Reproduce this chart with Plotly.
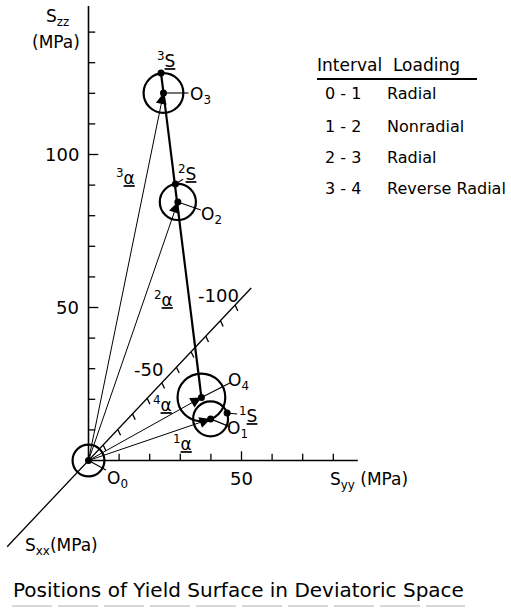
import plotly.graph_objects as go

# ---------------- data (MPa) ----------------
# Yield-surface centres O0..O4 in the (Syy, Szz) deviatoric plane and radii
centre_label = ["0", "1", "2", "3", "4"]
centre_syy = [0.0, 39.9, 29.2, 24.5, 36.9]
centre_szz = [0.0, 13.6, 84.5, 120.1, 20.6]
surface_radius = [5.2, 5.7, 5.9, 6.5, 7.8]

# Stress states 1S..3S
stress_label = ["1", "2", "3"]
stress_syy = [45.3, 28.4, 23.7]
stress_szz = [15.5, 90.4, 126.6]

# Axis ticks
syy_ticks = [10, 20, 30, 40, 50, 60, 70, 80]
syy_tick_text = [50]
szz_ticks = [10, 20, 30, 40, 50, 60, 70, 80, 90, 100, 110, 120, 130, 140]
szz_tick_text = [50, 100]
sxx_ticks = [-10, -20, -30, -40, -50, -60, -70, -80, -90, -100]
sxx_tick_text = [-50, -100]
syy_axis_end = 88.0
szz_axis_end = 148.5
sxx_axis_span = [55.5, -111.0]
# page displacement of the oblique Sxx axis per +1 MPa of Sxx
sxx_dir = (-0.479, -0.508)

# Loading table
intervals = ["0 - 1", "1 - 2", "2 - 3", "3 - 4"]
loading = ["Radial", "Nonradial", "Radial", "Reverse Radial"]

# ---------------- page geometry ----------------
W, H = 511, 608
S = 3.06                  # pixels per MPa (both directions)
OX, OY = 88.5, 460.5      # pixel position of the origin
FONT = "DejaVu Sans"
INK = "black"

x_range = [-OX / S, (W - OX) / S]
y_range = [-(H - OY) / S, OY / S]


def px(x, y):
    """page pixel -> data coordinates"""
    return (x - OX) / S, (OY - y) / S


fig = go.Figure()


def lines(xs, ys, width):
    fig.add_trace(go.Scatter(x=xs, y=ys, mode="lines",
                             line=dict(color=INK, width=width),
                             hoverinfo="skip", showlegend=False))


def label(x, y, text, size=16, dx=0, dy=0, xanchor="center", yanchor="middle"):
    fig.add_annotation(x=x, y=y, text=text, showarrow=False, xshift=dx, yshift=dy,
                       xanchor=xanchor, yanchor=yanchor,
                       font=dict(family=FONT, size=size, color=INK))


# ---- axes ----
lines([0, syy_axis_end], [0, 0], 1.6)
lines([0, 0], [0, szz_axis_end], 1.6)
lines([sxx_dir[0] * a for a in sxx_axis_span], [sxx_dir[1] * a for a in sxx_axis_span], 1.3)

tx, ty = [], []
for t in syy_ticks:
    L = 3.0 if t in syy_tick_text else 2.2
    tx += [t, t, None]
    ty += [0, L, None]
for t in szz_ticks:
    L = 3.2 if t in szz_tick_text else 2.2
    tx += [0, L, None]
    ty += [t, t, None]
for t in sxx_ticks:
    bx, by = sxx_dir[0] * t, sxx_dir[1] * t
    tx += [bx, bx + 0.9, None]
    ty += [by, by - 1.9, None]
lines(tx, ty, 1.3)

for t in syy_tick_text:
    label(t, 0, str(t), size=18, dy=-5, yanchor="top")
for t in szz_tick_text:
    label(0, t, str(t), size=18, dx=-8, xanchor="right")
sxx_label_shift = {-50: (-13, 13), -100: (-17, 10)}
for t in sxx_tick_text:
    dx, dy = sxx_label_shift[t]
    label(sxx_dir[0] * t, sxx_dir[1] * t, str(t), size=18, dx=dx, dy=dy)

# axis titles
label(*px(57, 17), "S<sub>zz</sub>", size=17)
label(*px(56, 42), "(MPa)", size=17)
label(*px(328, 480), "S<sub>yy</sub> (MPa)", size=17, xanchor="left")
label(*px(23, 546), "S<sub>xx</sub>(MPa)", size=17, xanchor="left")

# ---- yield surfaces ----
for cx, cy, r in zip(centre_syy, centre_szz, surface_radius):
    fig.add_shape(type="circle", xref="x", yref="y",
                  x0=cx - r, x1=cx + r, y0=cy - r, y1=cy + r,
                  line=dict(color=INK, width=2.2))

# ---- back-stress vectors alpha (origin -> centre) ----
for cx, cy in zip(centre_syy[1:], centre_szz[1:]):
    fig.add_annotation(x=cx, y=cy, ax=0, ay=0, xref="x", yref="y", axref="x", ayref="y",
                       text="", showarrow=True, arrowhead=2, arrowsize=2.2,
                       arrowwidth=1.0, arrowcolor=INK, standoff=0)

# ---- loading path 3S -> O4 ----
lines([stress_syy[2], centre_syy[4]], [stress_szz[2], centre_szz[4]], 2.2)

# ---- leader lines (pixel offsets from the point) ----
centre_leader = [(17.5, -9.5), (19.5, -8), (23, -8), (25, 0), (28.5, 14.5)]
stress_leader = [(10, -1), (7.7, 4.7), None]
lx, ly = [], []
for cx, cy, off in zip(centre_syy, centre_szz, centre_leader):
    lx += [cx, cx + off[0] / S, None]
    ly += [cy, cy + off[1] / S, None]
for sx, sy, off in zip(stress_syy, stress_szz, stress_leader):
    if off:
        lx += [sx, sx + off[0] / S, None]
        ly += [sy, sy + off[1] / S, None]
lines(lx, ly, 1.1)

# ---- points ----
fig.add_trace(go.Scatter(x=centre_syy + stress_syy, y=centre_szz + stress_szz, mode="markers",
                         marker=dict(color=INK, size=7), hoverinfo="skip", showlegend=False))

# ---- point labels ----
centre_text_shift = [(28.5, -18.5), (27, -11), (34, -14), (37.5, -3), (37.5, 15.5)]
for cx, cy, name, (dx, dy) in zip(centre_syy, centre_szz, centre_label, centre_text_shift):
    label(cx, cy, f"O<sub>{name}</sub>", size=17, dx=dx, dy=dy)
stress_text_shift = [(21, -2), (11.5, 11), (5, 13)]
for sx, sy, name, (dx, dy) in zip(stress_syy, stress_szz, stress_label, stress_text_shift):
    label(sx, sy, f"<sup>{name}</sup><u>S</u>", size=17, dx=dx, dy=dy)

alpha_pos = {"1": (182, 443), "2": (163, 299), "3": (125, 177), "4": (162, 404)}
for name, (x, y) in alpha_pos.items():
    label(*px(x, y), f"<sup>{name}</sup><u>α</u>", size=17)

# ---- loading table ----
label(*px(315, 65), "Interval  Loading", size=17, xanchor="left")
fig.add_shape(type="line", xref="x", yref="y",
              x0=px(317, 79)[0], x1=px(477, 79)[0], y0=px(317, 79)[1], y1=px(477, 79)[1],
              line=dict(color=INK, width=2))
row_y = [93, 126, 157, 188]
for iv, ld, y in zip(intervals, loading, row_y):
    label(*px(323, y), iv, size=16, xanchor="left")
    label(*px(385, y), ld, size=16, xanchor="left")

# ---- caption ----
label(*px(238.5, 590), "Positions of Yield Surface in Deviatoric Space", size=20)
fig.add_shape(type="line", xref="x", yref="y",
              x0=px(12, 606)[0], x1=px(465, 606)[0], y0=px(12, 606)[1], y1=px(465, 606)[1],
              line=dict(color="#b0b0b0", width=1, dash="40px,6px"))

fig.update_layout(
    width=W, height=H, margin=dict(l=0, r=0, t=0, b=0),
    paper_bgcolor="white", plot_bgcolor="white", showlegend=False,
    xaxis=dict(range=x_range, visible=False, fixedrange=True),
    yaxis=dict(range=y_range, visible=False, fixedrange=True),
)
fig.write_html("out.html")
